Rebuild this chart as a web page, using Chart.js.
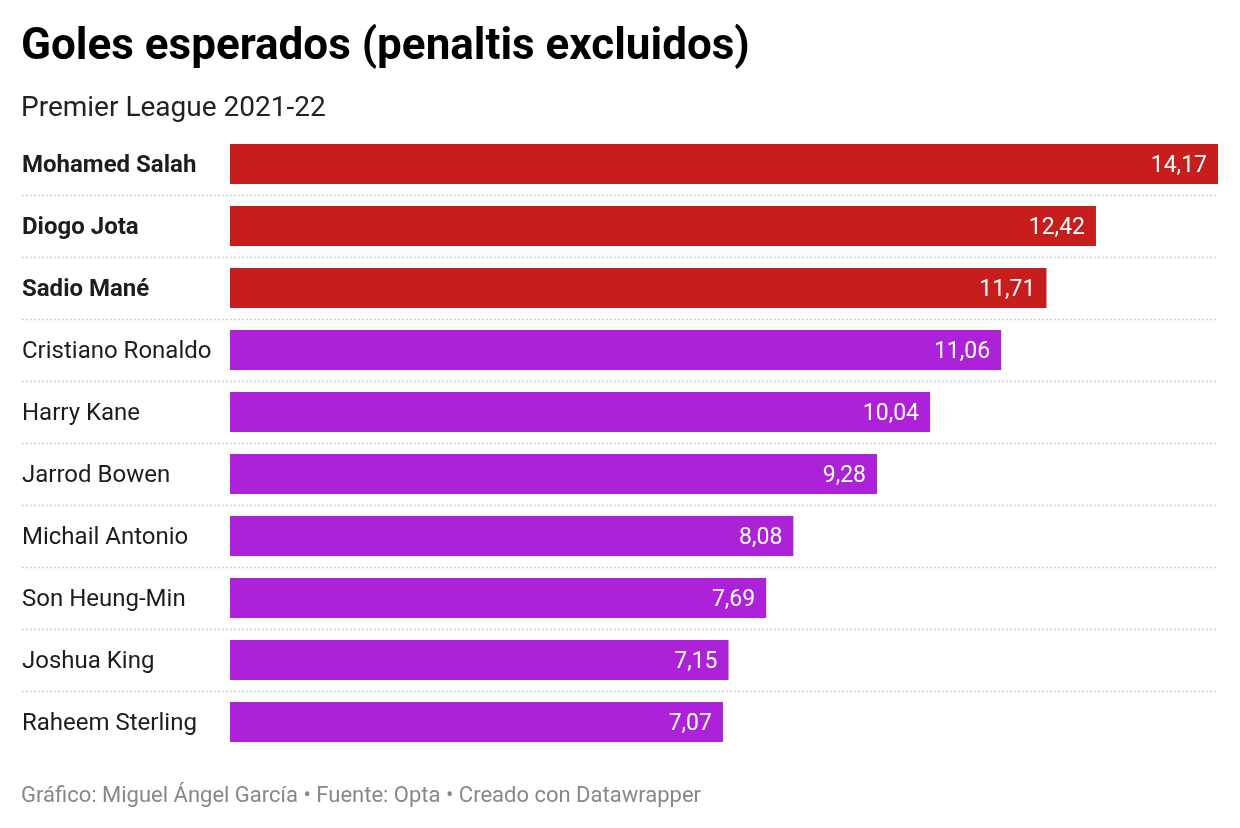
<!DOCTYPE html>
<html>
<head>
<meta charset="utf-8">
<script src="https://cdn.jsdelivr.net/npm/chart.js@4.4.1/dist/chart.umd.min.js"></script>
<style>
  body { margin: 0; background: #fff; font-family: Roboto, "Noto Sans", sans-serif; }
  #wrap { position: relative; width: 1240px; height: 828px; }
  canvas { position: absolute; left: 0; top: 0; }
  .title { position: absolute; left: 21px; top: 18px; font-size: 44px; font-weight: bold; color: #000; white-space: nowrap; }
  .subtitle { position: absolute; left: 21px; top: 90px; font-size: 28px; color: #222; }
  .footer { position: absolute; left: 21px; top: 782px; font-size: 22px; color: #888; }
</style>
</head>
<body>
<div id="wrap">
  <canvas id="chart" width="1240" height="828"></canvas>
  <div class="title">Goles esperados (penaltis excluidos)</div>
  <div class="subtitle">Premier League 2021-22</div>
  <div class="footer">Gráfico: Miguel Ángel García • Fuente: Opta • Creado con Datawrapper</div>
</div>
<script>
var players = ['Mohamed Salah', 'Diogo Jota', 'Sadio Mané', 'Cristiano Ronaldo', 'Harry Kane',
               'Jarrod Bowen', 'Michail Antonio', 'Son Heung-Min', 'Joshua King', 'Raheem Sterling'];
var xg = [14.17, 12.42, 11.71, 11.06, 10.04, 9.28, 8.08, 7.69, 7.15, 7.07];
var liverpool = [true, true, true, false, false, false, false, false, false, false];

var red = '#c71e1d';
var purple = '#ad21d8';

// dotted separators between rows, running under the labels too
var separators = {
  id: 'separators',
  beforeDatasetsDraw: function(chart) {
    var ctx = chart.ctx, y = chart.scales.y;
    var step = y.getPixelForValue(1) - y.getPixelForValue(0);
    ctx.save();
    ctx.strokeStyle = '#cfcfcf';
    ctx.lineWidth = 1.5;
    ctx.setLineDash([2, 2]);
    for (var i = 0; i < players.length - 1; i++) {
      var py = Math.round(y.getPixelForValue(i) + step / 2) + 0.5;
      ctx.beginPath();
      ctx.moveTo(22, py);
      ctx.lineTo(chart.chartArea.right, py);
      ctx.stroke();
    }
    ctx.restore();
  }
};

// value labels inside the end of each bar
var valueLabels = {
  id: 'valueLabels',
  afterDatasetsDraw: function(chart) {
    var ctx = chart.ctx;
    var meta = chart.getDatasetMeta(0);
    ctx.save();
    ctx.fillStyle = '#fff';
    ctx.font = '23px Roboto';
    ctx.textAlign = 'right';
    ctx.textBaseline = 'middle';
    meta.data.forEach(function(bar, i) {
      ctx.fillText(xg[i].toFixed(2).replace('.', ','), bar.x - 11, bar.y + 2);
    });
    ctx.restore();
  }
};

new Chart(document.getElementById('chart'), {
  type: 'bar',
  data: {
    labels: players,
    datasets: [{
      data: xg,
      backgroundColor: liverpool.map(function(l) { return l ? red : purple; }),
      barPercentage: 1,
      categoryPercentage: 40 / 62
    }]
  },
  options: {
    indexAxis: 'y',
    responsive: false,
    animation: false,
    layout: { padding: { left: 22, right: 22, top: 133, bottom: 75 } },
    plugins: { legend: { display: false }, tooltip: { enabled: false } },
    scales: {
      x: { display: false, min: 0, max: Math.max.apply(null, xg) },
      y: {
        grid: { display: false },
        border: { display: false },
        afterFit: function(scale) { scale.width = 208; },
        ticks: {
          crossAlign: 'far',
          labelOffset: 2,
          color: '#1d1d1d',
          font: function(c) {
            return { family: 'Roboto', size: 24, weight: liverpool[c.index] ? 'bold' : 'normal' };
          }
        }
      }
    }
  },
  plugins: [separators, valueLabels]
});
</script>
</body>
</html>
